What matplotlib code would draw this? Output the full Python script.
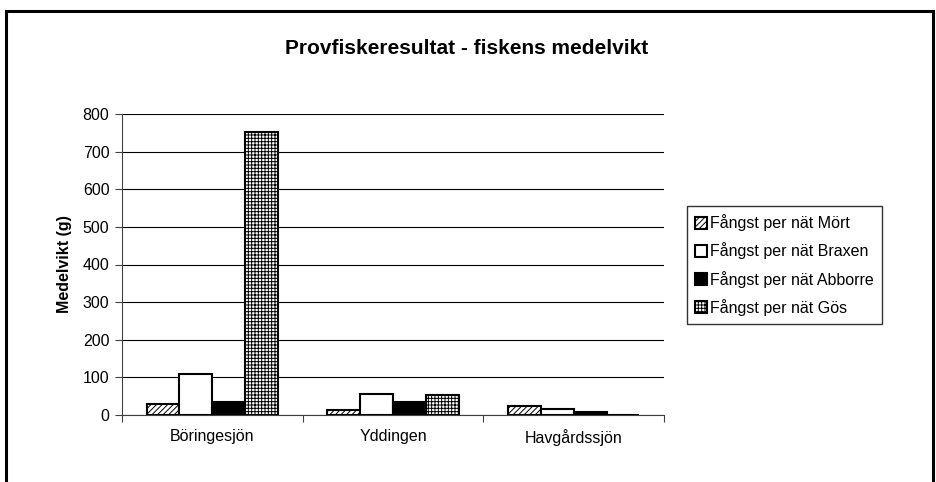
import matplotlib.pyplot as plt
import numpy as np
from matplotlib.patches import Rectangle

plt.rcParams['font.family'] = ['Liberation Sans', 'DejaVu Sans']
plt.rcParams['hatch.linewidth'] = 0.7

# данные
lakes = ['Böringesjön', 'Yddingen', 'Havgårdssjön']
series = ['Fångst per nät Mört', 'Fångst per nät Braxen',
          'Fångst per nät Abborre', 'Fångst per nät Gös']
mort = [29, 13, 24]
braxen = [110, 57, 15]
abborre = [34, 34, 7]
gos = [752, 54, 0]

values = [mort, braxen, abborre, gos]
faces = ['white', 'white', 'black', 'white']
hatches = ['//////', None, None, '+++++']

fig = plt.figure(figsize=(9.37, 4.82), dpi=100)
ax = fig.add_axes([122 / 937, 67 / 482, 542 / 937, 301 / 482])

x = np.arange(len(lakes))
w = 1 / 5.5
for i, (vals, fc, h) in enumerate(zip(values, faces, hatches)):
    ax.bar(x + (i - 1.5) * w, vals, w, facecolor=fc, edgecolor='black',
           hatch=h, linewidth=1.5, label=series[i], zorder=3)

ax.set_xlim(-0.5, 2.5)
ax.set_ylim(0, 800)
ax.set_yticks(range(0, 801, 100))
ax.yaxis.grid(True, color='black', linewidth=0.8, zorder=0)
ax.set_xticks([-0.5, 0.5, 1.5, 2.5])
ax.set_xticklabels([])
ax.set_xticks(x, minor=True)
ax.set_xticklabels(lakes, minor=True)
ax.tick_params(axis='x', which='minor', length=0, pad=10, labelsize=11.5)
ax.tick_params(axis='x', which='major', length=5, direction='out', color='#404040')
ax.tick_params(axis='y', length=5, direction='out', labelsize=11.5, color='#404040', pad=4)
for s in ['top', 'right']:
    ax.spines[s].set_visible(False)
ax.spines['left'].set_color('#404040')
ax.spines['bottom'].set_color('#404040')
ax.set_ylabel('Medelvikt (g)', fontsize=11.5, fontweight='bold', labelpad=8)

fig.text(467 / 937, 1 - 48 / 482, 'Provfiskeresultat - fiskens medelvikt',
         ha='center', va='center', fontsize=15, fontweight='bold')

leg = fig.legend(loc='center left', bbox_to_anchor=(687 / 937, 1 - 265 / 482),
                 fontsize=11.5, frameon=True, fancybox=False, edgecolor='black',
                 handlelength=0.75, handleheight=0.75, handletextpad=0.2,
                 labelspacing=0.7, borderpad=0.5, borderaxespad=0)
leg.get_frame().set_linewidth(1.0)

# внешняя рамка
fig.patches.append(Rectangle((6 / 937, -0.1), 927 / 937, 1.1 - 11 / 482,
                             transform=fig.transFigure, fill=False,
                             edgecolor='black', linewidth=2.2))

fig.savefig('out.png', dpi=100)
